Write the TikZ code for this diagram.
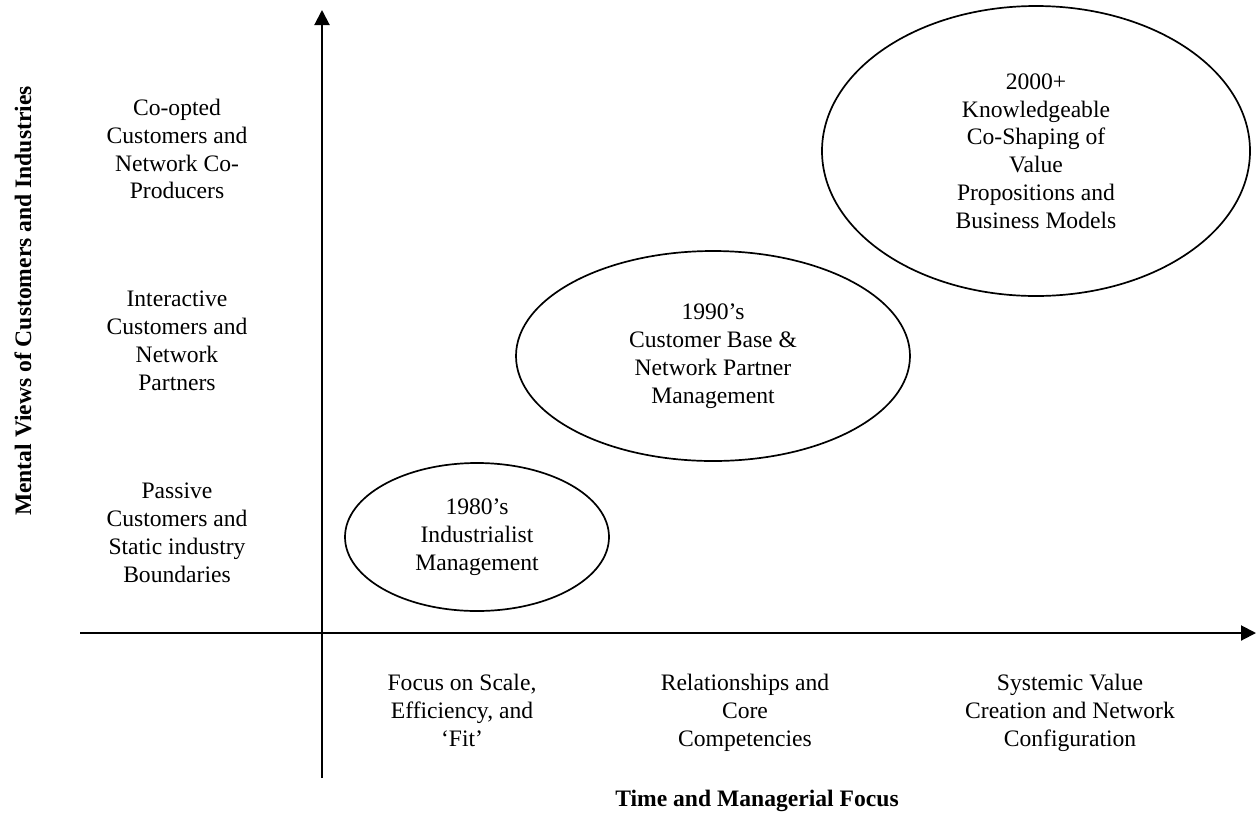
\documentclass[tikz,border=0pt]{standalone}
\usepackage{fontspec}
\setmainfont{Liberation Serif}
\usetikzlibrary{arrows.meta,positioning,shapes.geometric}

\begin{document}
\begin{tikzpicture}[x=1pt,y=-1pt,
    txt/.style={font=\fontsize{23.6}{27.8}\selectfont},
    axis/.style={line width=2pt,-{Triangle[length=15pt,width=15pt]}},
    era/.style={txt,ellipse,draw,line width=1.7pt,inner sep=0pt,align=center},
    lbl/.style={txt,align=center,inner sep=0pt}]
    \useasboundingbox (0,0) rectangle (1256,812);

    % Axes
    \coordinate (ybot) at (322,778);
    \coordinate (ytop) at (322,10);
    \coordinate (xleft) at (80,633);
    \coordinate (xright) at (1256,633);
    \draw[axis] (ybot) -- (ytop);
    \draw[axis] (xleft) -- (xright);

    % Axis titles
    \node[lbl,font=\fontsize{23.6}{27.8}\selectfont\bfseries,rotate=90,anchor=base] (ytitle) at (31,301) {Mental Views of Customers and Industries};
    \node[lbl,font=\fontsize{23.6}{27.8}\selectfont\bfseries,anchor=base] (xtitle) at (757,806) {Time and Managerial Focus};

    % Views of customers
    \node[lbl,anchor=north] (coopted) at (177,99) {Co-opted\\Customers and\\Network Co-\\Producers};
    \node[lbl,anchor=north] (interactive) at (177,291) {Interactive\\Customers and\\Network\\Partners};
    \node[lbl,anchor=north] (passive) at (177,483) {Passive\\Customers and\\Static industry\\Boundaries};

    % Managerial focus
    \node[lbl,anchor=north] (scale) at (462,674) {Focus on Scale,\\Efficiency, and\\`Fit'};
    \node[lbl,anchor=north] (relations) at (745,674) {Relationships and\\Core\\Competencies};
    \node[lbl,anchor=north] (systemic) at (1070,674) {Systemic Value\\Creation and Network\\Configuration};

    % Eras
    \node[era,minimum width=264pt,minimum height=148pt] (e1980) at (477,537) {1980's\\Industrialist\\Management};
    \node[era,minimum width=394pt,minimum height=210pt] (e1990) at (713,356) {1990's\\Customer Base \&\\Network Partner\\Management};
    \node[era,minimum width=428pt,minimum height=290pt] (e2000) at (1036,151) {2000+\\Knowledgeable\\Co-Shaping of\\Value\\Propositions and\\Business Models};
\end{tikzpicture}
\end{document}
